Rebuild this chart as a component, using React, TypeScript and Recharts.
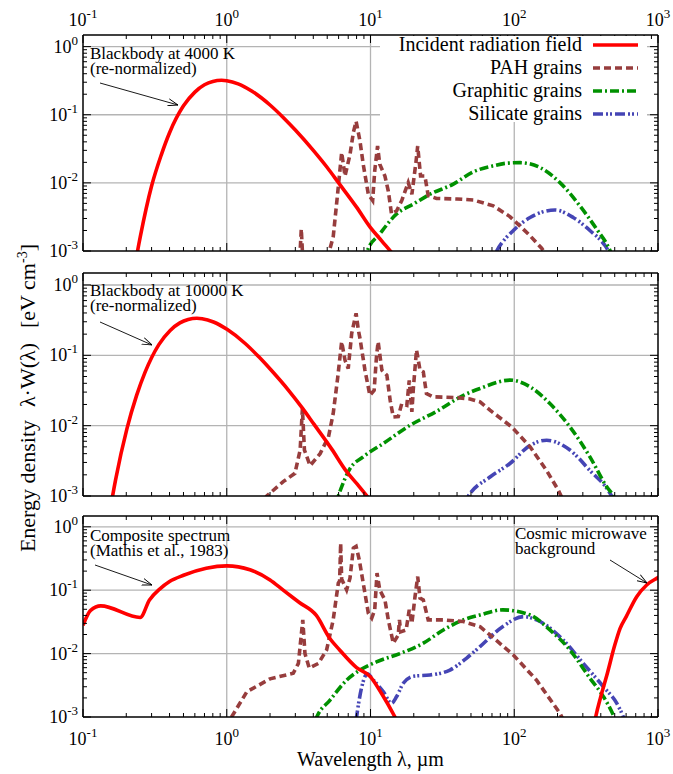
import React from 'react';
import { LineChart, Line, XAxis, YAxis, ReferenceLine } from 'recharts';

type Pair = [number, number];

// ---------- axis ticks ----------
const xTicks = [0.1, 0.2, 0.3, 0.4, 0.5, 0.6, 0.7, 0.8, 0.9, 1, 2, 3, 4, 5, 6, 7, 8, 9, 10, 20, 30, 40, 50, 60, 70, 80, 90, 100, 200, 300, 400, 500, 600, 700, 800, 900, 1000];
const yTicks = [0.001, 0.002, 0.003, 0.004, 0.005, 0.006, 0.007, 0.008, 0.009, 0.01, 0.02, 0.03, 0.04, 0.05, 0.06, 0.07, 0.08, 0.09, 0.1, 0.2, 0.3, 0.4, 0.5, 0.6, 0.7, 0.8, 0.9, 1];
const majorX = [0.1, 1, 10, 100, 1000];
const majorY = [0.001, 0.01, 0.1, 1];
const gridX = [1, 10, 100];
const gridY = [0.01, 0.1, 1];
const xDomain: [number, number] = [0.1, 1000];
const yDomain: [number, number] = [0.001, 1.48];

// ---------- panel 1 : blackbody 4000 K ----------
const rad1: Pair[] = [[0.2, 1.1e-4], [0.25, 1.6e-3], [0.3, 9.0e-3], [0.35, 0.0256], [0.4, 0.0545], [0.5, 0.135], [0.6, 0.215], [0.7, 0.275], [0.8, 0.308], [0.92, 0.32], [1.0, 0.315], [1.2, 0.284], [1.5, 0.221], [2, 0.139], [2.5, 0.089], [3, 0.0597], [4, 0.030], [5, 0.0168], [6, 0.0100], [8, 4.4e-3], [10, 2.2e-3], [12, 1.4e-3], [15, 8.0e-4], [20, 3.6e-4]];
const pah1: Pair[] = [[2.5, 3e-4], [3.2, 6e-4], [3.3, 2.1e-3], [3.4, 6e-4], [4.0, 3e-4], [5.1, 9e-4], [5.5, 1.6e-3], [5.9, 6.8e-3], [6.3, 0.0278], [6.65, 0.0126], [7.2, 0.026], [7.6, 0.055], [7.94, 0.08], [8.45, 0.041], [8.9, 0.0187], [9.66, 6.8e-3], [10.35, 5.5e-3], [10.7, 0.015], [11.2, 0.0347], [11.6, 0.0187], [12.6, 0.0126], [13.3, 7.6e-3], [14.0, 3.5e-3], [15.2, 3.9e-3], [16.5, 5.5e-3], [18.3, 0.0101], [19.4, 6.8e-3], [20.7, 0.0199], [21.3, 0.0347], [22.3, 0.0126], [23.9, 0.0126], [25.2, 6.5e-3], [28.8, 5.9e-3], [40, 5.8e-3], [51.9, 5.6e-3], [71.5, 4.6e-3], [93.3, 3.2e-3], [109, 2.35e-3], [128, 1.7e-3], [155, 1.1e-3], [180, 7e-4]];
const gra1: Pair[] = [[8.5, 4e-4], [9.5, 1e-3], [11.6, 1.78e-3], [15.2, 3.5e-3], [19.9, 4.9e-3], [25.9, 6.8e-3], [37.7, 9.6e-3], [51.9, 0.0145], [71.5, 0.0178], [90, 0.0195], [110, 0.0198], [151, 0.0168], [208, 0.0101], [286, 4.6e-3], [374, 2.1e-3], [451, 1.15e-3], [500, 7e-4]];
const sil1: Pair[] = [[65, 5e-4], [75.5, 1e-3], [98.6, 2.0e-3], [128.8, 3.1e-3], [192, 4.0e-3], [257, 3.1e-3], [336, 2.0e-3], [428, 1.2e-3], [480, 8e-4]];

// ---------- panel 2 : blackbody 10000 K ----------
const rad2: Pair[] = [[0.135, 1.15e-4], [0.1685, 1.7e-3], [0.202, 9.0e-3], [0.236, 0.0269], [0.27, 0.0572], [0.337, 0.142], [0.404, 0.226], [0.472, 0.289], [0.539, 0.323], [0.62, 0.336], [0.674, 0.331], [0.809, 0.298], [1.01, 0.232], [1.35, 0.146], [1.685, 0.0935], [2.02, 0.0627], [2.7, 0.0315], [3.37, 0.0176], [4.04, 0.0105], [5.39, 4.6e-3], [6.74, 2.3e-3], [8.09, 1.47e-3], [10.1, 8.4e-4], [13.5, 3.8e-4]];
const pah2: Pair[] = [[1.5, 5e-4], [1.9, 1e-3], [2.47, 1.6e-3], [2.98, 2.1e-3], [3.24, 4.5e-3], [3.36, 0.0175], [3.47, 4.5e-3], [3.8, 2.7e-3], [4.46, 4.0e-3], [5.1, 6.9e-3], [5.5, 0.0148], [5.92, 0.049], [6.3, 0.156], [6.65, 0.085], [7.0, 0.065], [7.4, 0.205], [7.94, 0.395], [8.23, 0.229], [8.45, 0.174], [9.15, 0.0616], [9.9, 0.027], [10.6, 0.0318], [11.0, 0.095], [11.3, 0.156], [12.0, 0.0616], [13.0, 0.052], [13.7, 0.023], [14.4, 0.0133], [15.6, 0.0135], [16.5, 0.0206], [17.9, 0.0195], [18.6, 0.044], [19.4, 0.0157], [19.9, 0.0355], [20.9, 0.119], [22.1, 0.0616], [23.3, 0.058], [24.5, 0.0286], [27.3, 0.0257], [39.8, 0.0251], [49.2, 0.0240], [57.8, 0.0218], [67.8, 0.0166], [96, 9.6e-3], [129, 5.0e-3], [168, 2.3e-3], [203, 1.2e-3], [230, 7e-4]];
const gra2: Pair[] = [[5.2, 4e-4], [5.97, 1e-3], [7.2, 2.45e-3], [8.9, 3.6e-3], [12.3, 5.6e-3], [18.8, 0.0101], [28.9, 0.016], [44.3, 0.027], [57.8, 0.0338], [93.3, 0.0444], [129, 0.0356], [177, 0.0206], [244, 9.6e-3], [336, 3.6e-3], [440, 1.35e-3], [489, 1e-3], [540, 6e-4]];
const sil2: Pair[] = [[42, 6e-4], [48, 1e-3], [67.8, 1.86e-3], [93.3, 2.9e-3], [129, 5.25e-3], [168, 6.2e-3], [244, 4.5e-3], [336, 2.3e-3], [463, 1.1e-3], [520, 7e-4]];

// ---------- panel 3 : composite spectrum + CMB ----------
const rad3: Pair[] = [[0.1, 0.028], [0.113, 0.048], [0.133, 0.0565], [0.25, 0.0372], [0.29, 0.07], [0.343, 0.105], [0.4, 0.137], [0.5, 0.172], [0.72, 0.222], [1.0, 0.242], [1.45, 0.21], [2.0, 0.145], [2.47, 0.1], [3.2, 0.064], [4.2, 0.04], [5.2, 0.0175], [6.1, 0.0114], [8, 6.0e-3], [10, 4.3e-3], [12, 2.3e-3], [14.8, 1.0e-3], [20, 2.5e-4]];
const cmb3: Pair[] = [[340, 3.5e-4], [365, 9e-4], [400, 2.1e-3], [440, 4.5e-3], [500, 0.0135], [545, 0.025], [600, 0.038], [711, 0.079], [834, 0.121], [1000, 0.158], [1100, 0.18]];
const pah3: Pair[] = [[0.9, 5e-4], [1.08, 1e-3], [1.38, 2.5e-3], [2.0, 4.0e-3], [2.9, 4.9e-3], [3.15, 7.0e-3], [3.38, 0.034], [3.5, 0.01], [3.75, 5.9e-3], [4.34, 7.0e-3], [4.95, 0.0114], [5.5, 0.034], [5.97, 0.129], [6.1, 0.14], [6.2, 0.55], [6.3, 0.15], [6.82, 0.101], [7.2, 0.155], [7.6, 0.46], [7.94, 0.49], [8.36, 0.30], [8.9, 0.129], [9.66, 0.0433], [10.2, 0.0362], [10.7, 0.049], [11.1, 0.186], [11.6, 0.101], [12.6, 0.0703], [13.3, 0.034], [14.4, 0.0146], [15.6, 0.0197], [15.9, 0.034], [16.2, 0.022], [17.7, 0.0236], [18.6, 0.049], [19.4, 0.030], [20.4, 0.079], [21.3, 0.164], [22.1, 0.0748], [23.3, 0.070], [25.2, 0.034], [32.1, 0.034], [44.3, 0.032], [57.8, 0.0266], [67.8, 0.0197], [98.6, 9.5e-3], [143, 3.8e-3], [208, 1.14e-3], [240, 6e-4]];
const gra3: Pair[] = [[3.8, 5e-4], [4.23, 1e-3], [5.23, 1.85e-3], [6.82, 3.8e-3], [8.45, 5.5e-3], [11.0, 7.4e-3], [16, 0.01], [23.3, 0.0146], [32.1, 0.0236], [44.3, 0.034], [57.8, 0.0407], [83, 0.049], [129, 0.0407], [177, 0.0236], [244, 0.0114], [336, 4.1e-3], [417, 2.1e-3], [489, 1.07e-3], [540, 6e-4]];
const sil3: Pair[] = [[7.6, 4e-4], [8.0, 1e-3], [8.7, 3.0e-3], [9.5, 4.8e-3], [10.5, 3.8e-3], [12.3, 2.5e-3], [14.0, 1.65e-3], [15.2, 2.1e-3], [16.9, 3.4e-3], [19.9, 4.4e-3], [25.9, 4.6e-3], [35.7, 5.5e-3], [46.7, 8.5e-3], [57.8, 0.0129], [83, 0.0266], [116, 0.0383], [143, 0.034], [219, 0.0164], [302, 7.0e-3], [417, 3.0e-3], [516, 1.65e-3], [574, 1e-3], [620, 6e-4]];

const legendLabels = ['Incident radiation field', 'PAH grains', 'Graphitic grains', 'Silicate grains'];

// ---------- styles ----------
const FONT: React.CSSProperties = { fontFamily: "'Liberation Serif', 'DejaVu Serif', serif" };
const RED = '#ff0000';
const PAH = '#973d3d';
const GRA = '#009100';
const SIL = '#4545b5';
const styles = {
  rad: { stroke: RED, strokeWidth: 3.6, strokeDasharray: undefined as string | undefined },
  pah: { stroke: PAH, strokeWidth: 3.6, strokeDasharray: '7 4' },
  gra: { stroke: GRA, strokeWidth: 3.6, strokeDasharray: '9 3 2 3' },
  sil: { stroke: SIL, strokeWidth: 3.6, strokeDasharray: '10 3 2 2 2 3' },
};

const toPts = (a: Pair[]) => a.map(([x, y]) => ({ x, y }));
const isMajor = (v: number, majors: number[]) => majors.some((m) => Math.abs(m - v) / m < 1e-6);

function makeTick(side: 'bottom' | 'top' | 'left' | 'right', labels: boolean, majors: number[]) {
  return (props: any) => {
    const { x, y, payload } = props;
    const v = payload.value as number;
    const major = isMajor(v, majors);
    const len = major ? 8 : 4;
    let line: React.ReactNode = null;
    if (side === 'bottom') line = <line x1={x} x2={x} y1={y} y2={y - len} stroke="#000" strokeWidth={1} />;
    if (side === 'top') line = <line x1={x} x2={x} y1={y} y2={y + len} stroke="#000" strokeWidth={1} />;
    if (side === 'left') line = <line x1={x} x2={x + len} y1={y} y2={y} stroke="#000" strokeWidth={1} />;
    if (side === 'right') line = <line x1={x} x2={x - len} y1={y} y2={y} stroke="#000" strokeWidth={1} />;
    let label: React.ReactNode = null;
    if (labels && major) {
      const e = String(Math.round(Math.log10(v)));
      if (side === 'bottom' || side === 'top') {
        const ty = side === 'bottom' ? y + 28 : y - 9;
        label = (
          <text x={x} y={ty} textAnchor="middle" style={FONT} fontSize={18} fill="#000">
            10<tspan dy={-8} fontSize={13}>{e}</tspan>
          </text>
        );
      } else {
        label = (
          <text x={x - 5} y={y + 6} textAnchor="end" style={FONT} fontSize={18} fill="#000">
            10<tspan dy={-8} fontSize={13}>{e}</tspan>
          </text>
        );
      }
    }
    return (
      <g>
        {line}
        {label}
      </g>
    );
  };
}

type Series = { data: Pair[]; kind: 'rad' | 'pah' | 'gra' | 'sil'; curve: 'linear' | 'monotone' };

function Panel(props: {
  top: number;
  height: number;
  margin: { top: number; right: number; bottom: number; left: number };
  topH: number;
  botH: number;
  topLabels: boolean;
  botLabels: boolean;
  series: Series[];
}) {
  const axisLine = { stroke: '#000', strokeWidth: 1.5 };
  return (
    <div style={{ position: 'absolute', left: 0, top: props.top }}>
      <LineChart width={673} height={props.height} margin={props.margin}>
        <XAxis
          type="number"
          dataKey="x"
          scale="log"
          domain={xDomain}
          allowDataOverflow
          ticks={xTicks}
          interval={0}
          tickSize={0}
          tickMargin={0}
          tickLine={false}
          height={props.botH}
          axisLine={axisLine}
          tick={makeTick('bottom', props.botLabels, majorX)}
        />
        <XAxis
          xAxisId="top"
          orientation="top"
          type="number"
          dataKey="x"
          scale="log"
          domain={xDomain}
          allowDataOverflow
          ticks={xTicks}
          interval={0}
          tickSize={0}
          tickMargin={0}
          tickLine={false}
          height={props.topH}
          axisLine={axisLine}
          tick={makeTick('top', props.topLabels, majorX)}
        />
        <YAxis
          type="number"
          scale="log"
          domain={yDomain}
          allowDataOverflow
          ticks={yTicks}
          interval={0}
          tickSize={0}
          tickMargin={0}
          tickLine={false}
          width={60}
          axisLine={axisLine}
          tick={makeTick('left', true, majorY)}
        />
        <YAxis
          yAxisId="right"
          orientation="right"
          type="number"
          scale="log"
          domain={yDomain}
          allowDataOverflow
          ticks={yTicks}
          interval={0}
          tickSize={0}
          tickMargin={0}
          tickLine={false}
          width={5}
          axisLine={axisLine}
          tick={makeTick('right', false, majorY)}
        />
        {gridX.map((g) => (
          <ReferenceLine key={'gx' + g} x={g} stroke="#b4b4b4" strokeWidth={1.3} />
        ))}
        {gridY.map((g) => (
          <ReferenceLine key={'gy' + g} y={g} stroke="#b4b4b4" strokeWidth={1.3} />
        ))}
        {props.series.map((s, i) => (
          <Line
            key={i}
            name={s.kind + i}
            data={toPts(s.data)}
            dataKey="y"
            type={s.curve}
            stroke={styles[s.kind].stroke}
            strokeWidth={styles[s.kind].strokeWidth}
            strokeDasharray={styles[s.kind].strokeDasharray}
            dot={false}
            activeDot={false}
            isAnimationActive={false}
          />
        ))}
      </LineChart>
    </div>
  );
}

function Note(props: { x: number; y: number; lines: string[] }) {
  return (
    <text x={props.x} y={props.y} style={FONT} fontSize={17} fill="#000">
      {props.lines.map((l, i) => (
        <tspan key={i} x={props.x} dy={i === 0 ? 0 : 15}>
          {l}
        </tspan>
      ))}
    </text>
  );
}

export default function App() {
  const legendKinds: ('rad' | 'pah' | 'gra' | 'sil')[] = ['rad', 'pah', 'gra', 'sil'];
  return (
    <div style={{ position: 'absolute', left: 0, top: 0, width: 673, height: 774, background: '#fff', overflow: 'hidden' }}>
      <Panel
        top={0}
        height={262}
        margin={{ top: 15, right: 10, bottom: 6, left: 23 }}
        topH={20}
        botH={5}
        topLabels={true}
        botLabels={false}
        series={[
          { data: sil1, kind: 'sil', curve: 'monotone' },
          { data: gra1, kind: 'gra', curve: 'monotone' },
          { data: pah1, kind: 'pah', curve: 'linear' },
          { data: rad1, kind: 'rad', curve: 'monotone' },
        ]}
      />
      <Panel
        top={262}
        height={250}
        margin={{ top: 6, right: 10, bottom: 11, left: 23 }}
        topH={5}
        botH={5}
        topLabels={false}
        botLabels={false}
        series={[
          { data: sil2, kind: 'sil', curve: 'monotone' },
          { data: gra2, kind: 'gra', curve: 'monotone' },
          { data: pah2, kind: 'pah', curve: 'linear' },
          { data: rad2, kind: 'rad', curve: 'monotone' },
        ]}
      />
      <Panel
        top={502}
        height={272}
        margin={{ top: 9, right: 10, bottom: 17, left: 23 }}
        topH={5}
        botH={40}
        topLabels={false}
        botLabels={true}
        series={[
          { data: sil3, kind: 'sil', curve: 'monotone' },
          { data: gra3, kind: 'gra', curve: 'monotone' },
          { data: pah3, kind: 'pah', curve: 'linear' },
          { data: rad3, kind: 'rad', curve: 'monotone' },
          { data: cmb3, kind: 'rad', curve: 'monotone' },
        ]}
      />
      <svg width={673} height={774} style={{ position: 'absolute', left: 0, top: 0 }}>
        <defs>
          <marker id="arrowhead" markerWidth={10} markerHeight={8} refX={10} refY={4} orient="auto" markerUnits="userSpaceOnUse">
            <path d="M0,0.5 L10,4 L0,7.5" fill="none" stroke="#000" strokeWidth={0.9} />
          </marker>
        </defs>
        {/* legend */}
        <rect x={380} y={36} width={267} height={86} fill="#fff" />
        {legendLabels.map((lab, i) => {
          const k = legendKinds[i];
          const by = 51 + i * 23;
          return (
            <g key={lab}>
              <text x={582} y={by} textAnchor="end" style={FONT} fontSize={20} fill="#000">
                {lab}
              </text>
              <line x1={593} x2={638} y1={by - 6} y2={by - 6} stroke={styles[k].stroke} strokeWidth={styles[k].strokeWidth} strokeDasharray={styles[k].strokeDasharray} />
            </g>
          );
        })}
        {/* annotations */}
        <Note x={90} y={59} lines={['Blackbody at 4000 K', '(re-normalized)']} />
        <line x1={100} y1={83} x2={178} y2={105} stroke="#000" strokeWidth={0.9} markerEnd="url(#arrowhead)" />
        <Note x={90} y={296} lines={['Blackbody at 10000 K', '(re-normalized)']} />
        <line x1={100} y1={322} x2={152} y2={345} stroke="#000" strokeWidth={0.9} markerEnd="url(#arrowhead)" />
        <Note x={90} y={541} lines={['Composite spectrum', '(Mathis et al., 1983)']} />
        <line x1={95} y1={565} x2={152} y2={585} stroke="#000" strokeWidth={0.9} markerEnd="url(#arrowhead)" />
        <Note x={515} y={539} lines={['Cosmic microwave', 'background']} />
        <line x1={610} y1={560} x2={647} y2={583} stroke="#000" strokeWidth={0.9} markerEnd="url(#arrowhead)" />
        {/* axis titles */}
        <text x={370.5} y={766} textAnchor="middle" style={FONT} fontSize={20} fill="#000">
          Wavelength λ, µm
        </text>
        <text x={35} y={486} transform="rotate(-90 35 486)" textAnchor="middle" style={FONT} fontSize={22} fill="#000">
          Energy density
        </text>
        <text x={35} y={375} transform="rotate(-90 35 375)" textAnchor="middle" style={FONT} fontSize={22} fill="#000">
          λ·W(λ)
        </text>
        <text x={35} y={286} transform="rotate(-90 35 286)" textAnchor="middle" style={FONT} fontSize={22} fill="#000">
          [eV cm<tspan dy={-8} fontSize={14}>-3</tspan>
          <tspan dy={8}>]</tspan>
        </text>
      </svg>
    </div>
  );
}
